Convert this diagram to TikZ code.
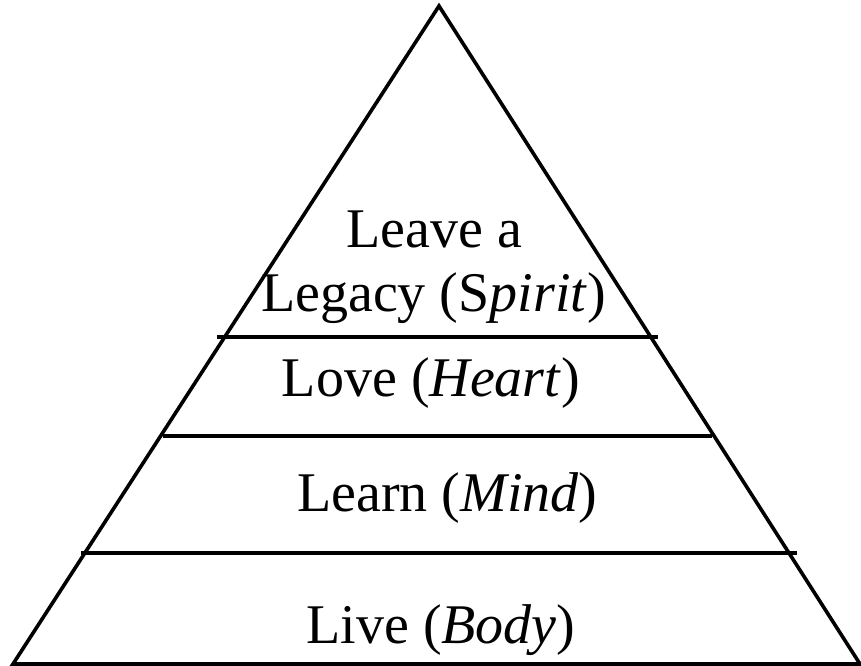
\documentclass[tikz,border=0pt]{standalone}
\usepackage{fontspec}
\setmainfont{Liberation Serif}
\begin{document}
\begin{tikzpicture}[x=0.75pt,y=-0.75pt,
  edge/.style={line width=2.7pt,line join=miter},
  tier/.style={line width=2.7pt},
  lbl/.style={anchor=base,inner sep=0pt,font=\fontsize{42}{48}\selectfont}]
\useasboundingbox (0,0) rectangle (861,666);
\coordinate (apex) at (439,6);
\coordinate (bl) at (13,664);
\coordinate (br) at (860,664);
\draw[edge] (bl) -- (apex) -- (br) -- cycle;
\coordinate (l1a) at (217,337); \coordinate (l1b) at (658,337);
\coordinate (l2a) at (163,436); \coordinate (l2b) at (712,436);
\coordinate (l3a) at (81,553);  \coordinate (l3b) at (797,553);
\draw[tier] (l1a) -- (l1b);
\draw[tier] (l2a) -- (l2b);
\draw[tier] (l3a) -- (l3b);
\node[lbl] (t1) at (434.5,248) {Leave a};
\node[lbl] (t2) at (433.5,312) {Legacy (S\textit{pirit})};
\node[lbl] (t3) at (431,397) {Love (\textit{Heart})};
\node[lbl] (t4) at (447.5,512) {Learn (\textit{Mind})};
\node[lbl] (t5) at (441,643) {Live (\textit{Body})};
\end{tikzpicture}
\end{document}
